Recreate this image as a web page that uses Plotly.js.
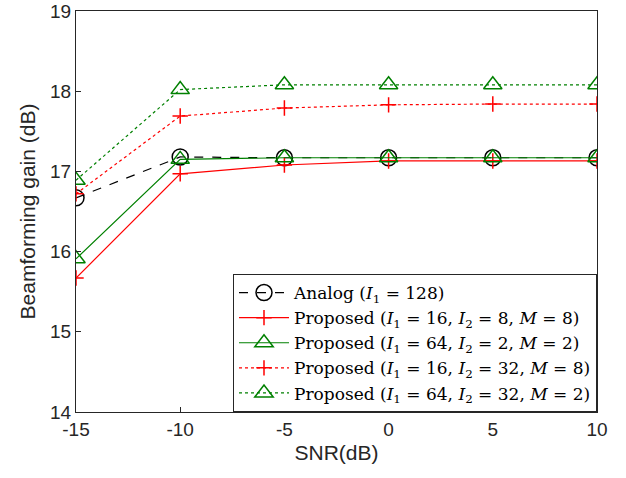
<!DOCTYPE html>
<html><head><meta charset="utf-8">
<script src="https://cdn.plot.ly/plotly-3.0.1.min.js"></script>
<style>html,body{margin:0;padding:0;background:#fff}</style>
</head><body><div id="chart" style="width:626px;height:478px"></div>
<script>
const snr = [-15, -10, -5, 0, 5, 10];
const analog = [16.67, 17.18, 17.17, 17.17, 17.17, 17.17];
const propA = [15.67, 16.97, 17.08, 17.13, 17.13, 17.13];
const propB = [15.91, 17.15, 17.17, 17.17, 17.17, 17.17];
const propC = [16.72, 17.69, 17.79, 17.83, 17.84, 17.84];
const propD = [16.89, 18.02, 18.08, 18.08, 18.08, 18.08];
const names = [
  'Analog (<i>I</i><sub>1</sub> = 128)',
  'Proposed (<i>I</i><sub>1</sub> = 16, <i>I</i><sub>2</sub> = 8, <i>M</i> = 8)',
  'Proposed (<i>I</i><sub>1</sub> = 64, <i>I</i><sub>2</sub> = 2, <i>M</i> = 2)',
  'Proposed (<i>I</i><sub>1</sub> = 16, <i>I</i><sub>2</sub> = 32, <i>M</i> = 8)',
  'Proposed (<i>I</i><sub>1</sub> = 64, <i>I</i><sub>2</sub> = 32, <i>M</i> = 2)'
];
const xticks = [-15, -10, -5, 0, 5, 10];
const xtickText = ['-15', '-10', '-5', '0', '5', '10'];
const yticks = [14, 15, 16, 17, 18, 19];

const red = '#ff0000', green = '#008000', black = '#000000';
function tr(y, name, color, dash, symbol, size) {
  return {x: snr, y: y, name: name, type: 'scatter', mode: 'lines+markers',
    line: {color: color, width: 1.2, dash: dash},
    marker: {symbol: symbol, size: size, color: color, line: {color: color, width: 1.5}}};
}
const data = [
  tr(analog, names[0], black, 'dash', 'circle-open', 16),
  tr(propA, names[1], red, 'solid', 'cross-thin-open', 11),
  tr(propB, names[2], green, 'solid', 'triangle-up-open', 16),
  tr(propC, names[3], red, 'dot', 'cross-thin-open', 11),
  tr(propD, names[4], green, 'dot', 'triangle-up-open', 16)
];
const sans = 'Liberation Sans, Arial, sans-serif';
const axisCommon = {showline: true, mirror: true, linecolor: '#262626', linewidth: 1,
  ticks: 'inside', ticklen: 5, tickcolor: '#262626', showgrid: false, zeroline: false,
  tickfont: {family: sans, size: 19, color: '#262626'}};
const layout = {
  width: 626, height: 478,
  margin: {l: 76, r: 29, t: 11, b: 66},
  paper_bgcolor: '#fff', plot_bgcolor: '#fff',
  showlegend: true,
  xaxis: Object.assign({}, axisCommon, {range: [-15, 10], tickvals: xticks, ticktext: xtickText,
    title: {text: 'SNR(dB)', font: {family: sans, size: 21, color: '#262626'}, standoff: 6}}),
  yaxis: Object.assign({}, axisCommon, {range: [14, 19], tickvals: yticks,
    title: {text: 'Beamforming gain (dB)', font: {family: sans, size: 21, color: '#262626'}, standoff: 8}}),
  legend: {x: 1, y: 0, xanchor: 'right', yanchor: 'bottom', bgcolor: '#fff',
    bordercolor: '#262626', borderwidth: 1, itemwidth: 50, tracegroupgap: 0,
    font: {family: 'DejaVu Serif, Liberation Serif, serif', size: 17, color: '#000'}}
};
Plotly.newPlot('chart', data, layout, {displayModeBar: false});
</script></body></html>
